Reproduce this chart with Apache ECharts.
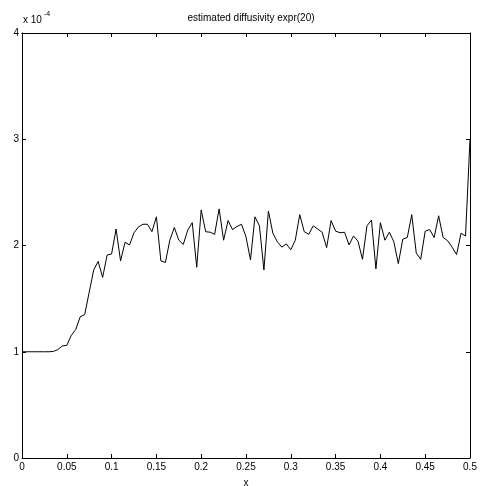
<!DOCTYPE html>
<html>
<head>
<meta charset="utf-8">
<script src="https://cdn.jsdelivr.net/npm/echarts@6/dist/echarts.min.js"></script>
<style>
  html, body { margin: 0; padding: 0; background: #fff; }
  #chart { width: 482px; height: 486px; }
</style>
</head>
<body>
<div id="chart"></div>
<script>
// Sampling step along x and the estimated diffusivity (in units of 1e-4)
const xStep = 0.005;
const diffusivity = [
  1.0, 1.0, 1.0, 1.0, 1.0, 1.0, 1.0, 1.003, 1.02, 1.055,
  1.06, 1.155, 1.21, 1.33, 1.35, 1.56, 1.77, 1.85, 1.70, 1.91,
  1.92, 2.155, 1.855, 2.03, 2.005, 2.12, 2.175, 2.20, 2.20, 2.13,
  2.27, 1.855, 1.84, 2.05, 2.17, 2.05, 2.01, 2.145, 2.215, 1.795,
  2.335, 2.13, 2.125, 2.105, 2.345, 2.05, 2.235, 2.15, 2.18, 2.20,
  2.08, 1.865, 2.27, 2.185, 1.77, 2.325, 2.115, 2.035, 1.985, 2.015,
  1.96, 2.05, 2.29, 2.13, 2.105, 2.185, 2.155, 2.125, 1.98, 2.235,
  2.135, 2.12, 2.125, 2.005, 2.09, 2.04, 1.87, 2.185, 2.24, 1.78,
  2.215, 2.05, 2.125, 2.035, 1.83, 2.06, 2.075, 2.29, 1.93, 1.87,
  2.135, 2.15, 2.075, 2.28, 2.075, 2.045, 1.985, 1.915, 2.115, 2.09,
  3.0
];
const titleText = 'estimated diffusivity expr(20)';
const xLabel = 'x';

const points = diffusivity.map((v, i) => [+(i * xStep).toFixed(3), v]);

const font = 'Liberation Sans, Arial, sans-serif';
const axisBase = {
  axisLine: { show: true, onZero: false, lineStyle: { color: '#000', width: 1 } },
  axisTick: { show: true, inside: true, length: 4, lineStyle: { color: '#000', width: 1 } },
  splitLine: { show: false }
};

const chart = echarts.init(document.getElementById('chart'), null, { renderer: 'canvas' });
chart.setOption({
  animation: false,
  backgroundColor: '#fff',
  title: {
    text: titleText,
    left: 246, top: 8, textAlign: 'center',
    textStyle: { fontFamily: font, fontSize: 10, fontWeight: 'normal', color: '#000' }
  },
  grid: { left: 22, right: 12, top: 33, bottom: 28, containLabel: false, outerBoundsMode: 'none' },
  xAxis: [
    Object.assign({}, axisBase, {
      type: 'value', min: 0, max: 0.5, interval: 0.05, position: 'bottom',
      name: xLabel, nameLocation: 'middle', nameGap: 20,
      nameTextStyle: { fontFamily: font, fontSize: 10, color: '#000' },
      axisLabel: { fontFamily: font, fontSize: 10, color: '#000', margin: 4 }
    }),
    Object.assign({}, axisBase, {
      type: 'value', min: 0, max: 0.5, interval: 0.05, position: 'top',
      axisLabel: { show: false }
    })
  ],
  yAxis: [
    Object.assign({}, axisBase, {
      type: 'value', min: 0, max: 4, interval: 1, position: 'left',
      axisLabel: { fontFamily: font, fontSize: 10, color: '#000', margin: 3 }
    }),
    Object.assign({}, axisBase, {
      type: 'value', min: 0, max: 4, interval: 1, position: 'right',
      axisLabel: { show: false }
    })
  ],
  graphic: [{
    type: 'text',
    left: 23, top: 11,
    style: {
      text: '{b|x 10}{s|-4}',
      rich: {
        b: { fontFamily: font, fontSize: 10, fill: '#000', padding: [6, 0, 0, 0] },
        s: { fontFamily: font, fontSize: 7, fill: '#000', padding: [0, 0, 6, 2] }
      }
    }
  }],
  series: [{
    type: 'line',
    data: points,
    xAxisIndex: 0, yAxisIndex: 0,
    showSymbol: false,
    lineStyle: { color: '#000', width: 1 }
  }]
});
</script>
</body>
</html>
